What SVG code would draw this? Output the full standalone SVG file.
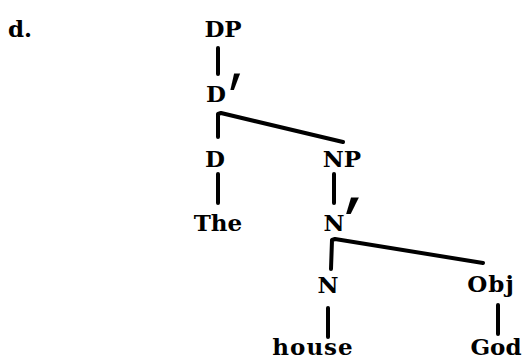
<svg xmlns="http://www.w3.org/2000/svg" width="528" height="361" viewBox="0 0 528 361">
<style>
.t{font-family:"DejaVu Serif","Liberation Serif",serif;font-weight:bold;font-size:23px;fill:#000;text-anchor:middle}
.p{font-family:"DejaVu Sans","Liberation Sans",sans-serif;font-weight:bold;font-size:34px;fill:#000;text-anchor:start}
.e{stroke:#000;stroke-width:4;fill:none;stroke-linecap:round;stroke-linejoin:round}
</style>
<rect width="528" height="361" fill="#fff"/>
<text class="t" x="8" y="37" style="text-anchor:start">d.</text>
<g id="connectors">
<line class="e" x1="218" y1="48" x2="218" y2="74"/>
<path class="e" d="M218,137 L218,114 L221,113 L343,142"/>
<line class="e" x1="218" y1="174" x2="218" y2="203"/>
<line class="e" x1="334" y1="174" x2="334" y2="203"/>
<path class="e" d="M331,269 L332,240 L335,239 L483,263"/>
<line class="e" x1="328" y1="308" x2="328" y2="337"/>
<line class="e" x1="498" y1="305" x2="498" y2="334"/>
</g>
<g id="DP"><text class="t" x="223" y="37">DP</text></g>
<g id="Dbar"><text class="t" x="216" y="102">D</text><text class="p" transform="translate(229.5,139) scale(1.3,2.6)">′</text></g>
<g id="D"><text class="t" x="215" y="167">D</text></g>
<g id="NP"><text class="t" x="342" y="167">NP</text></g>
<g id="The"><text class="t" x="218" y="231">The</text></g>
<g id="Nbar"><text class="t" x="334" y="231">N</text><text class="p" transform="translate(345,263) scale(1.7,2.6)">′</text></g>
<g id="N"><text class="t" x="328" y="293">N</text></g>
<g id="Obj"><text class="t" x="491" y="292" style="letter-spacing:1px">Obj</text></g>
<g id="house"><text class="t" x="313" y="355" style="letter-spacing:1px">house</text></g>
<g id="God"><text class="t" x="496" y="355">God</text></g>
</svg>
